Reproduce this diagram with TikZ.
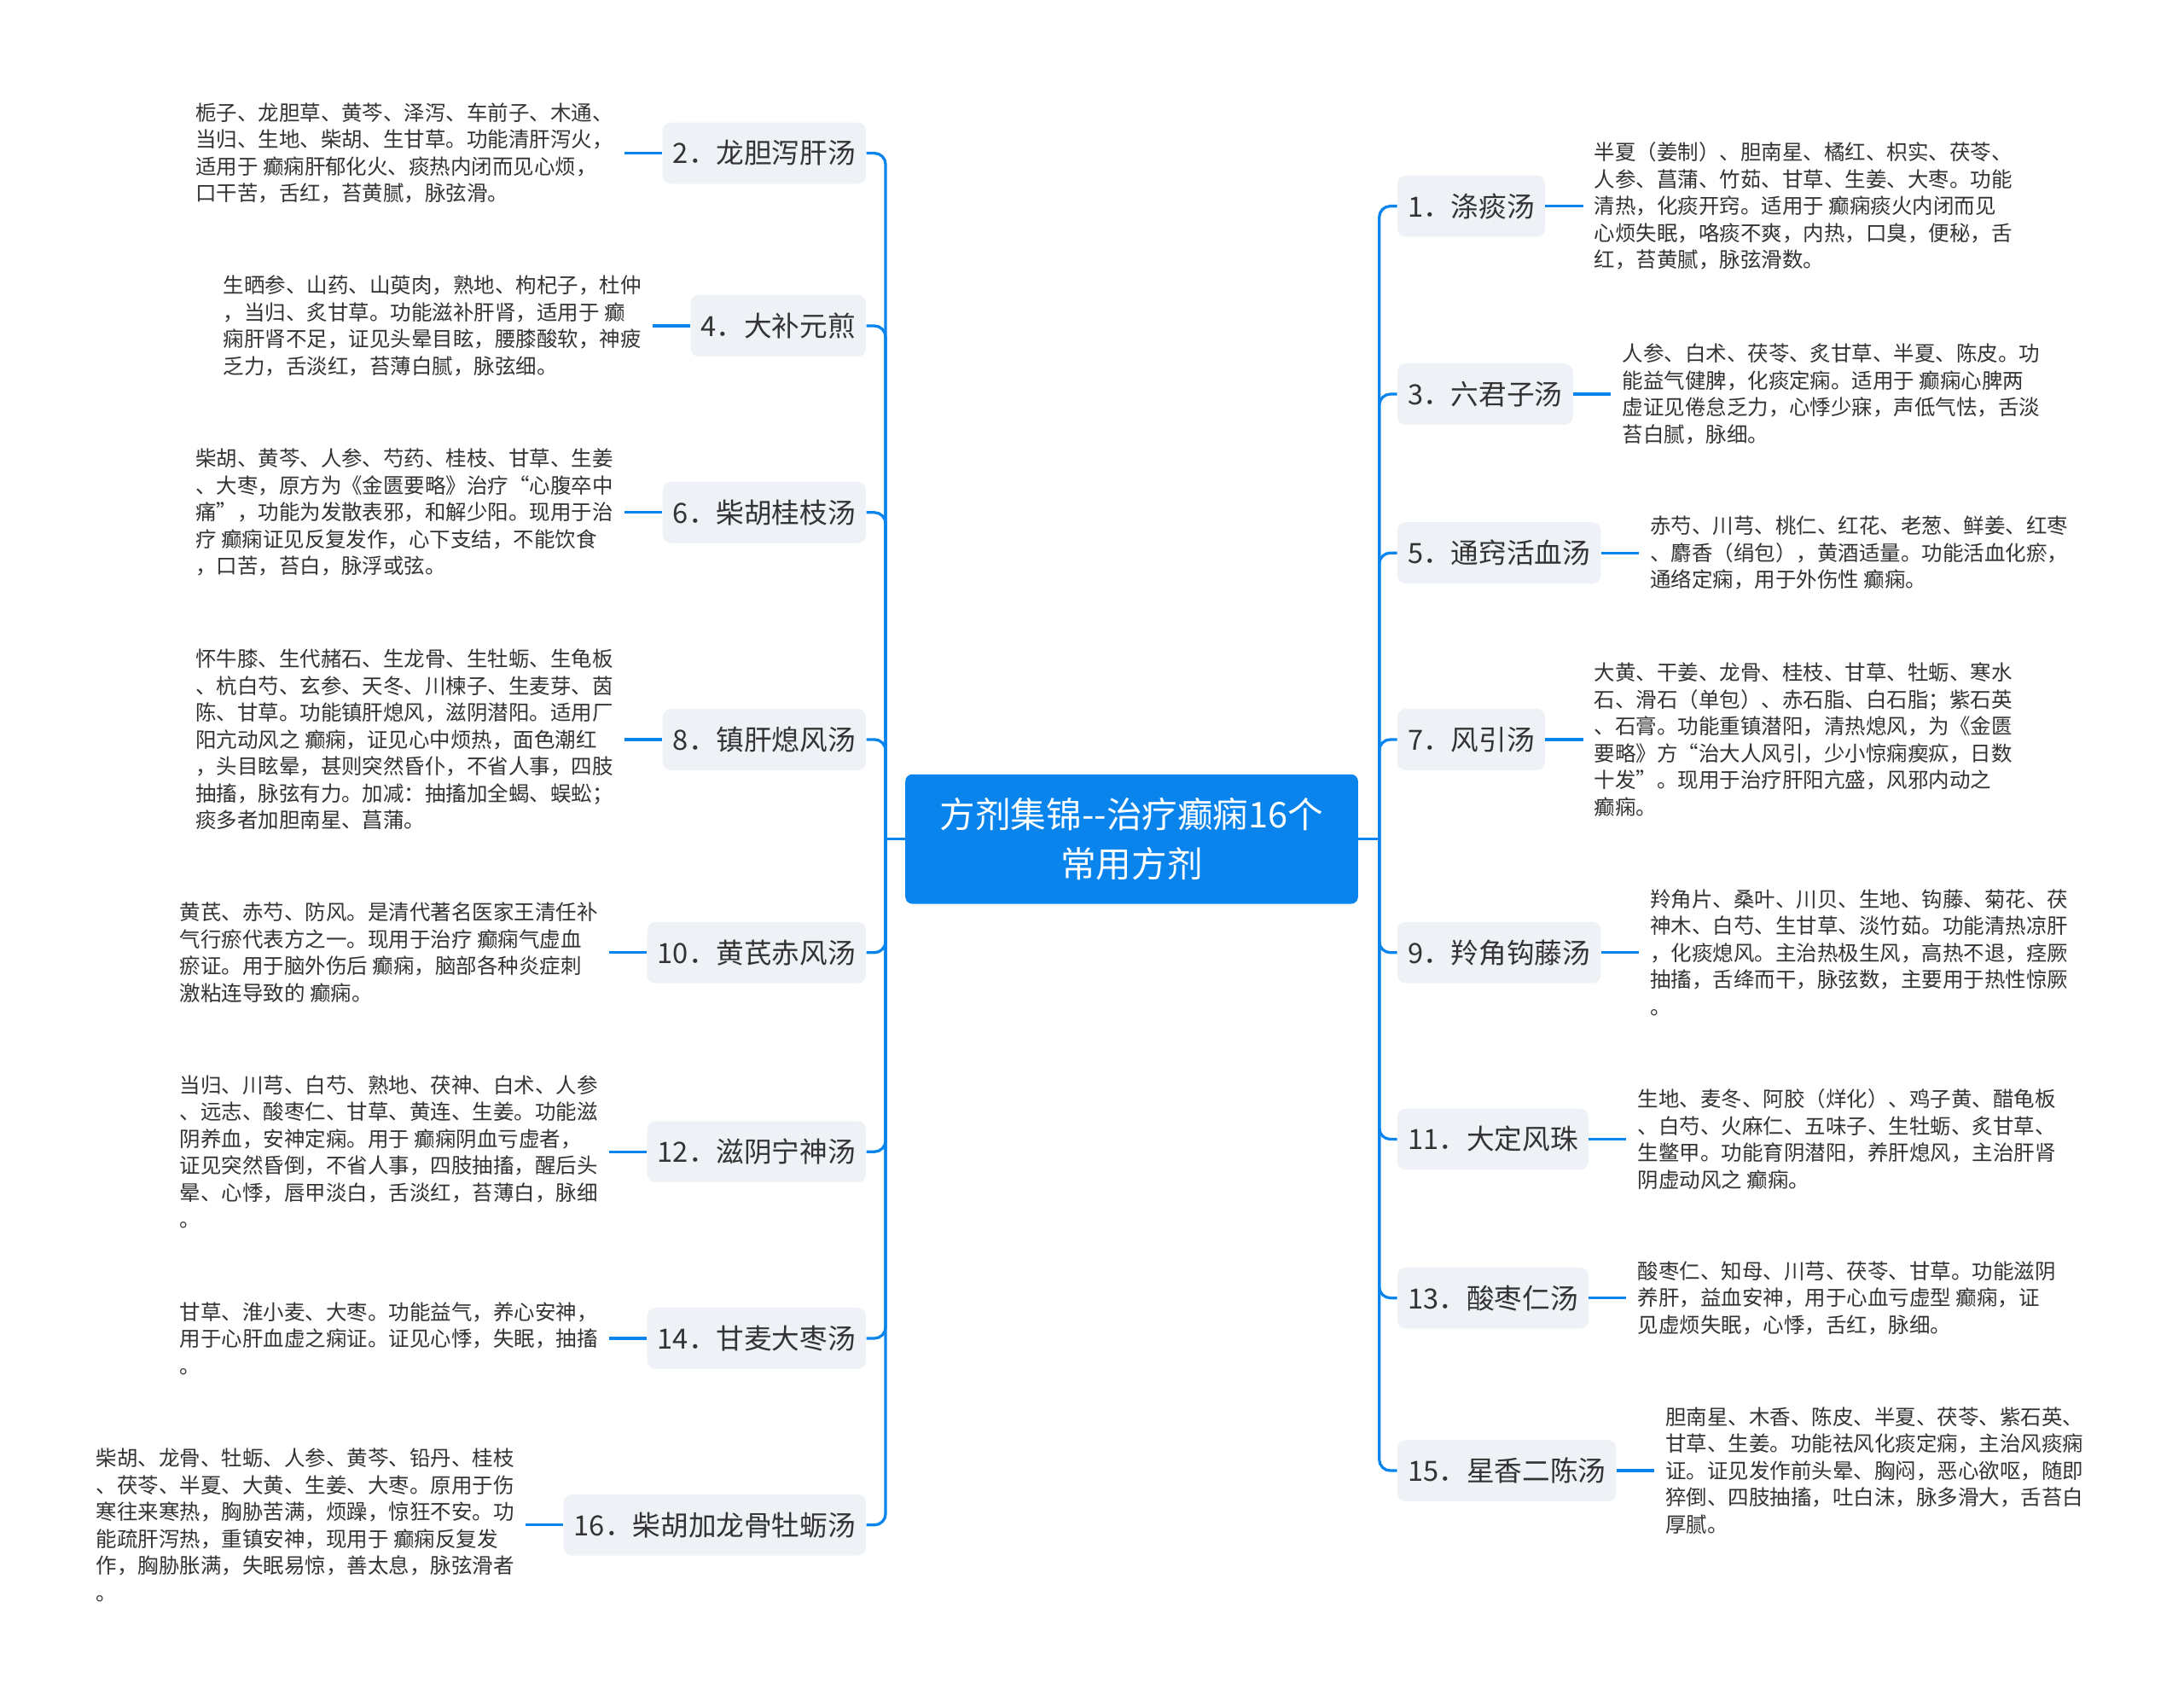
\documentclass[tikz,border=0pt]{standalone}
\usepackage{fontspec}
\setmainfont{Noto Sans CJK SC}
\usetikzlibrary{positioning}
\definecolor{mblue}{RGB}{8,132,236}
\definecolor{nodebg}{RGB}{238,241,245}
\definecolor{txt}{RGB}{51,51,51}
\begin{document}
\begin{tikzpicture}[x=1pt,y=-1pt,
  root/.style={fill=mblue, rounded corners=5pt, text=white, font=\fontsize{25.5}{35}\selectfont, align=center, minimum width=325pt, minimum height=93pt, inner sep=0pt},
  branch/.style={fill=nodebg, rounded corners=6pt, text=txt, font=\fontsize{20}{24}\selectfont, inner xsep=7.5pt, minimum height=44pt},
  leaf/.style={text=txt, font=\fontsize{15}{19.3}\selectfont, align=left, inner xsep=8pt, inner ysep=0pt},
  conn/.style={draw=mblue, line width=2pt, rounded corners=8pt},
]
\useasboundingbox (0,0) rectangle (1568,1225);

\node[root] (root) at (812.5,602.5) {方剂集锦-{}-治疗癫痫16个\\常用方剂};
\coordinate (lt) at ([xshift=-14pt]root.west);
\coordinate (rt) at ([xshift=15pt]root.east);

% left branches
\node[branch, anchor=east] (b2) at (622,110) {2．龙胆泻肝汤};
\node[branch, anchor=east] (b4) at (622,234) {4．大补元煎};
\node[branch, anchor=east] (b6) at (622,368) {6．柴胡桂枝汤};
\node[branch, anchor=east] (b8) at (622,531) {8．镇肝熄风汤};
\node[branch, anchor=east] (b10) at (622,684) {10．黄芪赤风汤};
\node[branch, anchor=east] (b12) at (622,827) {12．滋阴宁神汤};
\node[branch, anchor=east] (b14) at (622,961) {14．甘麦大枣汤};
\node[branch, anchor=east] (b16) at (622,1095) {16．柴胡加龙骨牡蛎汤};

% right branches
\node[branch, anchor=west] (b1) at (1003,148) {1．涤痰汤};
\node[branch, anchor=west] (b3) at (1003,283) {3．六君子汤};
\node[branch, anchor=west] (b5) at (1003,397) {5．通窍活血汤};
\node[branch, anchor=west] (b7) at (1003,531) {7．风引汤};
\node[branch, anchor=west] (b9) at (1003,684) {9．羚角钩藤汤};
\node[branch, anchor=west] (b11) at (1003,818) {11．大定风珠};
\node[branch, anchor=west] (b13) at (1003,932) {13．酸枣仁汤};
\node[branch, anchor=west] (b15) at (1003,1056) {15．星香二陈汤};

% left leaves
\node[leaf, left=27pt of b2] (l2) {栀子、龙胆草、黄芩、泽泻、车前子、木通、\\当归、生地、柴胡、生甘草。功能清肝泻火，\\适用于 癫痫肝郁化火、痰热内闭而见心烦，\\口干苦，舌红，苔黄腻，脉弦滑。};
\node[leaf, left=27pt of b4] (l4) {生晒参、山药、山萸肉，熟地、枸杞子，杜仲\\，当归、炙甘草。功能滋补肝肾，适用于 癫\\痫肝肾不足，证见头晕目眩，腰膝酸软，神疲\\乏力，舌淡红，苔薄白腻，脉弦细。};
\node[leaf, left=27pt of b6] (l6) {柴胡、黄芩、人参、芍药、桂枝、甘草、生姜\\、大枣，原方为《金匮要略》治疗“心腹卒中\\痛”，功能为发散表邪，和解少阳。现用于治\\疗 癫痫证见反复发作，心下支结，不能饮食\\，口苦，苔白，脉浮或弦。};
\node[leaf, left=27pt of b8] (l8) {怀牛膝、生代赭石、生龙骨、生牡蛎、生龟板\\、杭白芍、玄参、天冬、川楝子、生麦芽、茵\\陈、甘草。功能镇肝熄风，滋阴潜阳。适用厂\\阳亢动风之 癫痫，证见心中烦热，面色潮红\\，头目眩晕，甚则突然昏仆，不省人事，四肢\\抽搐，脉弦有力。加减：抽搐加全蝎、蜈蚣；\\痰多者加胆南星、菖蒲。};
\node[leaf, left=27pt of b10] (l10) {黄芪、赤芍、防风。是清代著名医家王清任补\\气行瘀代表方之一。现用于治疗 癫痫气虚血\\瘀证。用于脑外伤后 癫痫，脑部各种炎症刺\\激粘连导致的 癫痫。};
\node[leaf, left=27pt of b12] (l12) {当归、川芎、白芍、熟地、茯神、白术、人参\\、远志、酸枣仁、甘草、黄连、生姜。功能滋\\阴养血，安神定痫。用于 癫痫阴血亏虚者，\\证见突然昏倒，不省人事，四肢抽搐，醒后头\\晕、心悸，唇甲淡白，舌淡红，苔薄白，脉细\\。};
\node[leaf, left=27pt of b14] (l14) {甘草、淮小麦、大枣。功能益气，养心安神，\\用于心肝血虚之痫证。证见心悸，失眠，抽搐\\。};
\node[leaf, left=27pt of b16] (l16) {柴胡、龙骨、牡蛎、人参、黄芩、铅丹、桂枝\\、茯苓、半夏、大黄、生姜、大枣。原用于伤\\寒往来寒热，胸胁苦满，烦躁，惊狂不安。功\\能疏肝泻热，重镇安神，现用于 癫痫反复发\\作，胸胁胀满，失眠易惊，善太息，脉弦滑者\\。};

% right leaves
\node[leaf, right=27pt of b1] (r1) {半夏（姜制）、胆南星、橘红、枳实、茯苓、\\人参、菖蒲、竹茹、甘草、生姜、大枣。功能\\清热，化痰开窍。适用于 癫痫痰火内闭而见\\心烦失眠，咯痰不爽，内热，口臭，便秘，舌\\红，苔黄腻，脉弦滑数。};
\node[leaf, right=27pt of b3] (r3) {人参、白术、茯苓、炙甘草、半夏、陈皮。功\\能益气健脾，化痰定痫。适用于 癫痫心脾两\\虚证见倦怠乏力，心悸少寐，声低气怯，舌淡\\苔白腻，脉细。};
\node[leaf, right=27pt of b5] (r5) {赤芍、川芎、桃仁、红花、老葱、鲜姜、红枣\\、麝香（绢包），黄酒适量。功能活血化瘀，\\通络定痫，用于外伤性 癫痫。};
\node[leaf, right=27pt of b7] (r7) {大黄、干姜、龙骨、桂枝、甘草、牡蛎、寒水\\石、滑石（单包）、赤石脂、白石脂；紫石英\\、石膏。功能重镇潜阳，清热熄风，为《金匮\\要略》方“治大人风引，少小惊痫瘈疭，日数\\十发”。现用于治疗肝阳亢盛，风邪内动之\\癫痫。};
\node[leaf, right=27pt of b9] (r9) {羚角片、桑叶、川贝、生地、钩藤、菊花、茯\\神木、白芍、生甘草、淡竹茹。功能清热凉肝\\，化痰熄风。主治热极生风，高热不退，痉厥\\抽搐，舌绛而干，脉弦数，主要用于热性惊厥\\。};
\node[leaf, right=27pt of b11] (r11) {生地、麦冬、阿胶（烊化）、鸡子黄、醋龟板\\、白芍、火麻仁、五味子、生牡蛎、炙甘草、\\生鳖甲。功能育阴潜阳，养肝熄风，主治肝肾\\阴虚动风之 癫痫。};
\node[leaf, right=27pt of b13] (r13) {酸枣仁、知母、川芎、茯苓、甘草。功能滋阴\\养肝，益血安神，用于心血亏虚型 癫痫，证\\见虚烦失眠，心悸，舌红，脉细。};
\node[leaf, right=27pt of b15] (r15) {胆南星、木香、陈皮、半夏、茯苓、紫石英、\\甘草、生姜。功能祛风化痰定痫，主治风痰痫\\证。证见发作前头晕、胸闷，恶心欲呕，随即\\猝倒、四肢抽搐，吐白沫，脉多滑大，舌苔白\\厚腻。};

% trunk connectors
\draw[conn] (root.west) -- (lt);
\draw[conn] (root.east) -- (rt);
\foreach \b in {b2,b4,b6,b8,b10,b12,b14,b16} {
  \draw[conn] (lt) |- (\b.east);
}
\foreach \b in {b1,b3,b5,b7,b9,b11,b13,b15} {
  \draw[conn] (rt) |- (\b.west);
}
% leaf connectors
\foreach \l/\b in {l2/b2,l4/b4,l6/b6,l8/b8,l10/b10,l12/b12,l14/b14,l16/b16} {
  \draw[conn] (\l.east) -- (\b.west);
}
\foreach \r/\b in {r1/b1,r3/b3,r5/b5,r7/b7,r9/b9,r11/b11,r13/b13,r15/b15} {
  \draw[conn] (\b.east) -- (\r.west);
}
\end{tikzpicture}
\end{document}
